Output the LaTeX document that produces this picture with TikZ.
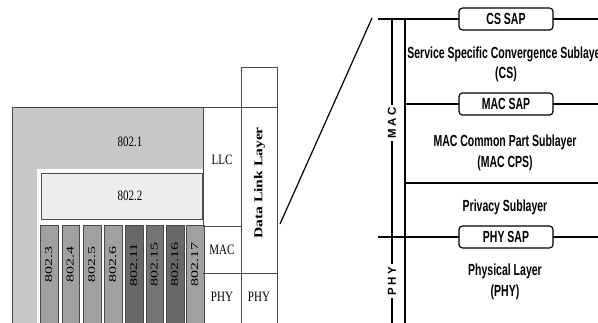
\documentclass[tikz,border=0pt]{standalone}
\usepackage{fontspec}
\usepackage{graphicx}
\setmainfont{Liberation Serif}
\newfontfamily\sansf{Liberation Sans}
\newfontfamily\lsf{Liberation Sans}[LetterSpace=22]
\definecolor{gbig}{HTML}{C8C8C8}
\definecolor{gpale}{HTML}{EEEEEE}
\definecolor{glight}{HTML}{A0A0A0}
\definecolor{gdark}{HTML}{686868}
\definecolor{gmid}{HTML}{747474}
\definecolor{edge}{HTML}{4A4A4A}
\newcommand\llab[1]{\scalebox{1}[1.3]{\fontsize{11}{11}\selectfont #1}}
\newcommand\blab[1]{\scalebox{1.6}[1.05]{\fontsize{10}{10}\selectfont #1}}
\newcommand\rlab[1]{\scalebox{0.75}[1.15]{\sansf\bfseries\fontsize{14}{14}\selectfont #1}}
\begin{document}
\begin{tikzpicture}[x=1pt,y=-1pt,
  cellline/.style={draw=edge, line width=0.9pt},
  bar/.style={draw=edge, line width=0.8pt, anchor=north west, minimum width=17.5pt, minimum height=115pt, inner sep=0pt},
  txt/.style={inner sep=0pt},
  sap/.style={draw=black, fill=white, rounded corners=3.5pt, line width=1.2pt, minimum width=94pt, minimum height=22pt, inner sep=0pt},
  thickline/.style={line width=1.8pt},
  thinline/.style={line width=1.3pt},
  vlab/.style={rotate=90, inner sep=2pt, font=\lsf\bfseries\fontsize{11.5}{11.5}\selectfont}]
\useasboundingbox (0,0) rectangle (598,323);
\clip (0,0) rectangle (598,323);
\fill[white] (0,0) rectangle (598,323);

% ---------- left stack ----------
\node[draw=edge, line width=0.9pt, fill=gbig, anchor=north west, minimum width=191pt, minimum height=230pt, inner sep=0pt] (big) at (12,107) {};
\fill[white] (37,169) rectangle (203,335);
\node[draw=edge, line width=0.9pt, fill=gpale, anchor=north west, minimum width=161pt, minimum height=46pt, inner sep=0pt] (b22) at (41,173) {};
\node[txt] (t21) at (130,142) {\llab{802.1}};
\node[txt] (t22) at (130,196) {\llab{802.2}};

\foreach \x/\c/\t [count=\i] in {40/glight/802.3, 61.5/glight/802.4, 83/glight/802.5, 104/glight/802.6, 125/gdark/802.11, 145.5/gmid/802.15, 166/gdark/802.16, 186/glight/802.17}{
  \node[bar, fill=\c] (bar\i) at (\x,225) {};
  \node[txt, rotate=90] (bt\i) at (\x+8.75,265) {\blab{\t}};
}

% cells on the right of the stack
\node[draw=edge, line width=0.9pt, anchor=north west, minimum width=36pt, minimum height=40pt, inner sep=0pt] (dtop) at (241,67) {};
\node[draw=edge, line width=0.9pt, anchor=north west, minimum width=36pt, minimum height=166pt, inner sep=0pt] (dll) at (241,107) {};
\node[draw=edge, line width=0.9pt, anchor=north west, minimum width=36pt, minimum height=60pt, inner sep=0pt] (dphy) at (241,273) {};
\coordinate (topl) at (12,107);
\coordinate (llcbl) at (203,226);
\coordinate (macbl) at (203,273);
\coordinate (colbl) at (241,335);
\draw[cellline] (topl) -- (dll.north west);
\draw[cellline] (llcbl) -- (llcbl -| dll.west);
\draw[cellline] (macbl) -- (dphy.north west);
\draw[cellline] (dll.south west) -- (colbl);
\node[txt] (llc) at (222,160) {\llab{LLC}};
\node[txt] (macl) at (222,250) {\llab{MAC}};
\node[txt] (phyl) at (222,297) {\llab{PHY}};
\node[txt] (phyr) at (259,297) {\llab{PHY}};
\node[txt, rotate=90] (dlt) at (259.5,183) {\scalebox{1.3}[1]{\bfseries\fontsize{12}{12}\selectfont Data Link Layer}};

% zoom line
\coordinate (zl1) at (280,224);
\coordinate (zl2) at (372,18);
\draw[line width=1.2pt] (zl1) -- (zl2);

% ---------- right stack ----------
\coordinate (h1a) at (378,19);
\coordinate (h1b) at (600,19);
\coordinate (h2a) at (405,104);
\coordinate (h2b) at (600,104);
\coordinate (h3a) at (405,183);
\coordinate (h3b) at (600,183);
\coordinate (h4a) at (378,237);
\coordinate (h4b) at (600,237);
\coordinate (vtop) at (405,19);
\coordinate (vbot) at (405,330);
\coordinate (mtop) at (392,19);
\coordinate (pbot) at (392,330);

\draw[thickline] (h1a) -- (h1b);
\draw[thickline] (h2a) -- (h2b);
\draw[thinline] (h3a) -- (h3b);
\draw[thickline] (h4a) -- (h4b);
\draw[thinline] (vtop) -- (vbot);

\node[vlab] (maclab) at (392,123) {MAC};
\node[vlab] (phylab) at (392,281) {PHY};
\draw[thinline] (mtop) -- (maclab.east);
\draw[thinline] (maclab.west) -- (phylab.east);
\draw[thinline] (phylab.west) -- (pbot);

\node[sap] (cssap) at (506,19) {\rlab{CS SAP}};
\node[sap] (macsap) at (506,104) {\rlab{MAC SAP}};
\node[sap] (physap) at (506,237) {\rlab{PHY SAP}};

\node[txt] (cs1) at (506,54) {\rlab{Service Specific Convergence Sublayer}};
\node[txt] (cs2) at (506,74) {\rlab{(CS)}};
\node[txt] (cps1) at (505,142) {\rlab{MAC Common Part Sublayer}};
\node[txt] (cps2) at (505,163) {\rlab{(MAC CPS)}};
\node[txt] (priv) at (505,207) {\rlab{Privacy Sublayer}};
\node[txt] (ph1) at (505,271) {\rlab{Physical Layer}};
\node[txt] (ph2) at (505,292) {\rlab{(PHY)}};
\end{tikzpicture}
\end{document}
